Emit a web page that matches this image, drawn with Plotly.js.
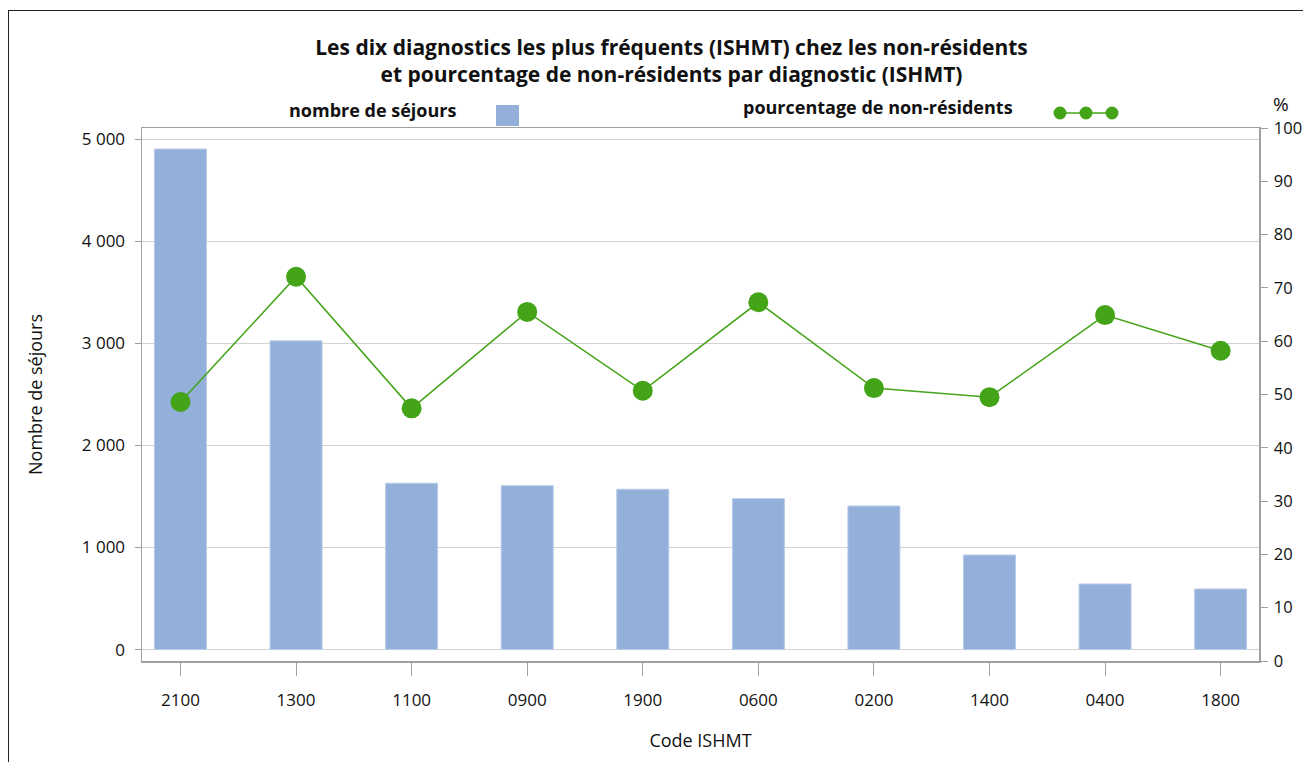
<!DOCTYPE html>
<html>
<head>
<meta charset="utf-8">
<script src="https://cdn.plot.ly/plotly-3.0.1.min.js"></script>
<style>
html,body{margin:0;padding:0;background:#fff;overflow:hidden;}
#chart{position:absolute;left:0;top:0;width:1303px;height:762px;}
#frame{position:absolute;left:8px;top:10px;width:1400px;height:900px;border:1.5px solid #222;pointer-events:none;}
</style>
</head>
<body>
<div id="chart"></div>
<div id="frame"></div>
<script>
// Data
var codes = ['2100','1300','1100','0900','1900','0600','0200','1400','0400','1800'];
var sejours = [4905, 3025, 1630, 1606, 1571, 1479, 1407, 927, 643, 594];
var pctNonResidents = [48.6, 72.1, 47.4, 65.5, 50.7, 67.3, 51.2, 49.5, 64.9, 58.2];
var leftTickVals = [0, 1000, 2000, 3000, 4000, 5000];
var leftTickText = ['0', '1 000', '2 000', '3 000', '4 000', '5 000'];

var FONT = 'Open Sans, Noto Sans, sans-serif';
var BAR = '#92b0d9';
var GREEN = '#44a418';
var W = 1303, H = 762;
var L = 142, R = 1259, T = 128, B = 661;
function px(x){ return (x - L) / (R - L); }
function py(y){ return (B - y) / (B - T); }

var traces = [
  {
    type: 'bar', x: codes, y: sejours, name: 'nombre de séjours',
    width: 0.45,
    marker: {color: BAR, line: {color: '#b9cce9', width: 1}},
    yaxis: 'y', hoverinfo: 'x+y'
  },
  {
    type: 'scatter', mode: 'lines+markers', x: codes, y: pctNonResidents,
    name: 'pourcentage de non-résidents',
    line: {color: GREEN, width: 1.5},
    marker: {color: GREEN, size: 20},
    yaxis: 'y2', hoverinfo: 'x+y'
  }
];

var layout = {
  width: W, height: H,
  margin: {l: L, r: W - R, t: T, b: H - B, pad: 0},
  paper_bgcolor: '#fff', plot_bgcolor: '#fff',
  showlegend: false,
  font: {family: FONT, size: 17, color: '#111'},
  title: {
    text: '<b>Les dix diagnostics les plus fréquents (ISHMT) chez les non-résidents<br>et pourcentage de non-résidents par diagnostic (ISHMT)</b>',
    font: {family: FONT, size: 21, color: '#111'},
    xref: 'paper', x: px(671.5), xanchor: 'center',
    yref: 'container', y: 1 - 55 / H, yanchor: 'middle'
  },
  xaxis: {
    type: 'category', range: [-0.333, 9.332],
    showline: true, linecolor: '#a0a0a0', linewidth: 1.5, mirror: true,
    ticks: 'outside', ticklen: 13, tickcolor: '#a0a0a0', tickwidth: 1,
    ticklabelstandoff: 10,
    tickfont: {family: FONT, size: 17, color: '#111'},
    showgrid: false, zeroline: false,
    automargin: false,
    title: {text: 'Code ISHMT', font: {family: FONT, size: 18, color: '#111'}, standoff: 24}
  },
  yaxis: {
    range: [-112, 5111],
    tickvals: leftTickVals, ticktext: leftTickText,
    showline: true, linecolor: '#a0a0a0', linewidth: 1.5,
    ticks: 'outside', ticklen: 6, tickcolor: '#a0a0a0', tickwidth: 1,
    ticklabelstandoff: 6,
    tickfont: {family: FONT, size: 17, color: '#111'},
    showgrid: true, gridcolor: '#d2d2d2', gridwidth: 1.5,
    zeroline: false, automargin: false,
    title: {text: 'Nombre de séjours', font: {family: FONT, size: 18, color: '#111'}, standoff: 34}
  },
  yaxis2: {
    overlaying: 'y', side: 'right', range: [0, 100], dtick: 10, tick0: 0,
    showline: true, linecolor: '#a0a0a0', linewidth: 1.5,
    ticks: 'outside', ticklen: 7, tickcolor: '#a0a0a0', tickwidth: 1,
    ticklabelstandoff: 3,
    tickfont: {family: FONT, size: 16.5, color: '#111'},
    showgrid: false, zeroline: false, automargin: false
  },
  annotations: [
    {text: '<b>nombre de séjours</b>', xref: 'paper', yref: 'paper', x: px(287), y: py(110),
     xanchor: 'left', yanchor: 'middle', showarrow: false, font: {family: FONT, size: 18, color: '#111'}},
    {text: '<b>pourcentage de non-résidents</b>', xref: 'paper', yref: 'paper', x: px(741), y: py(107),
     xanchor: 'left', yanchor: 'middle', showarrow: false, font: {family: FONT, size: 18, color: '#111'}},
    {text: '%', xref: 'paper', yref: 'paper', x: px(1281), y: py(104),
     xanchor: 'center', yanchor: 'middle', showarrow: false, font: {family: FONT, size: 19, color: '#111'}}
  ],
  shapes: [
    {type: 'rect', xref: 'paper', yref: 'paper', x0: px(496), x1: px(519), y0: py(126), y1: py(105),
     fillcolor: BAR, line: {width: 0}},
    {type: 'line', xref: 'paper', yref: 'paper', x0: px(1060), x1: px(1112), y0: py(113), y1: py(113),
     line: {color: GREEN, width: 1.5}},
    {type: 'circle', xref: 'paper', yref: 'paper', x0: px(1053.5), x1: px(1066.5), y0: py(119.5), y1: py(106.5),
     fillcolor: GREEN, line: {width: 0}},
    {type: 'circle', xref: 'paper', yref: 'paper', x0: px(1079.5), x1: px(1092.5), y0: py(119.5), y1: py(106.5),
     fillcolor: GREEN, line: {width: 0}},
    {type: 'circle', xref: 'paper', yref: 'paper', x0: px(1105.5), x1: px(1118.5), y0: py(119.5), y1: py(106.5),
     fillcolor: GREEN, line: {width: 0}}
  ]
};

Plotly.newPlot('chart', traces, layout, {displayModeBar: false, staticPlot: true});
</script>
</body>
</html>
